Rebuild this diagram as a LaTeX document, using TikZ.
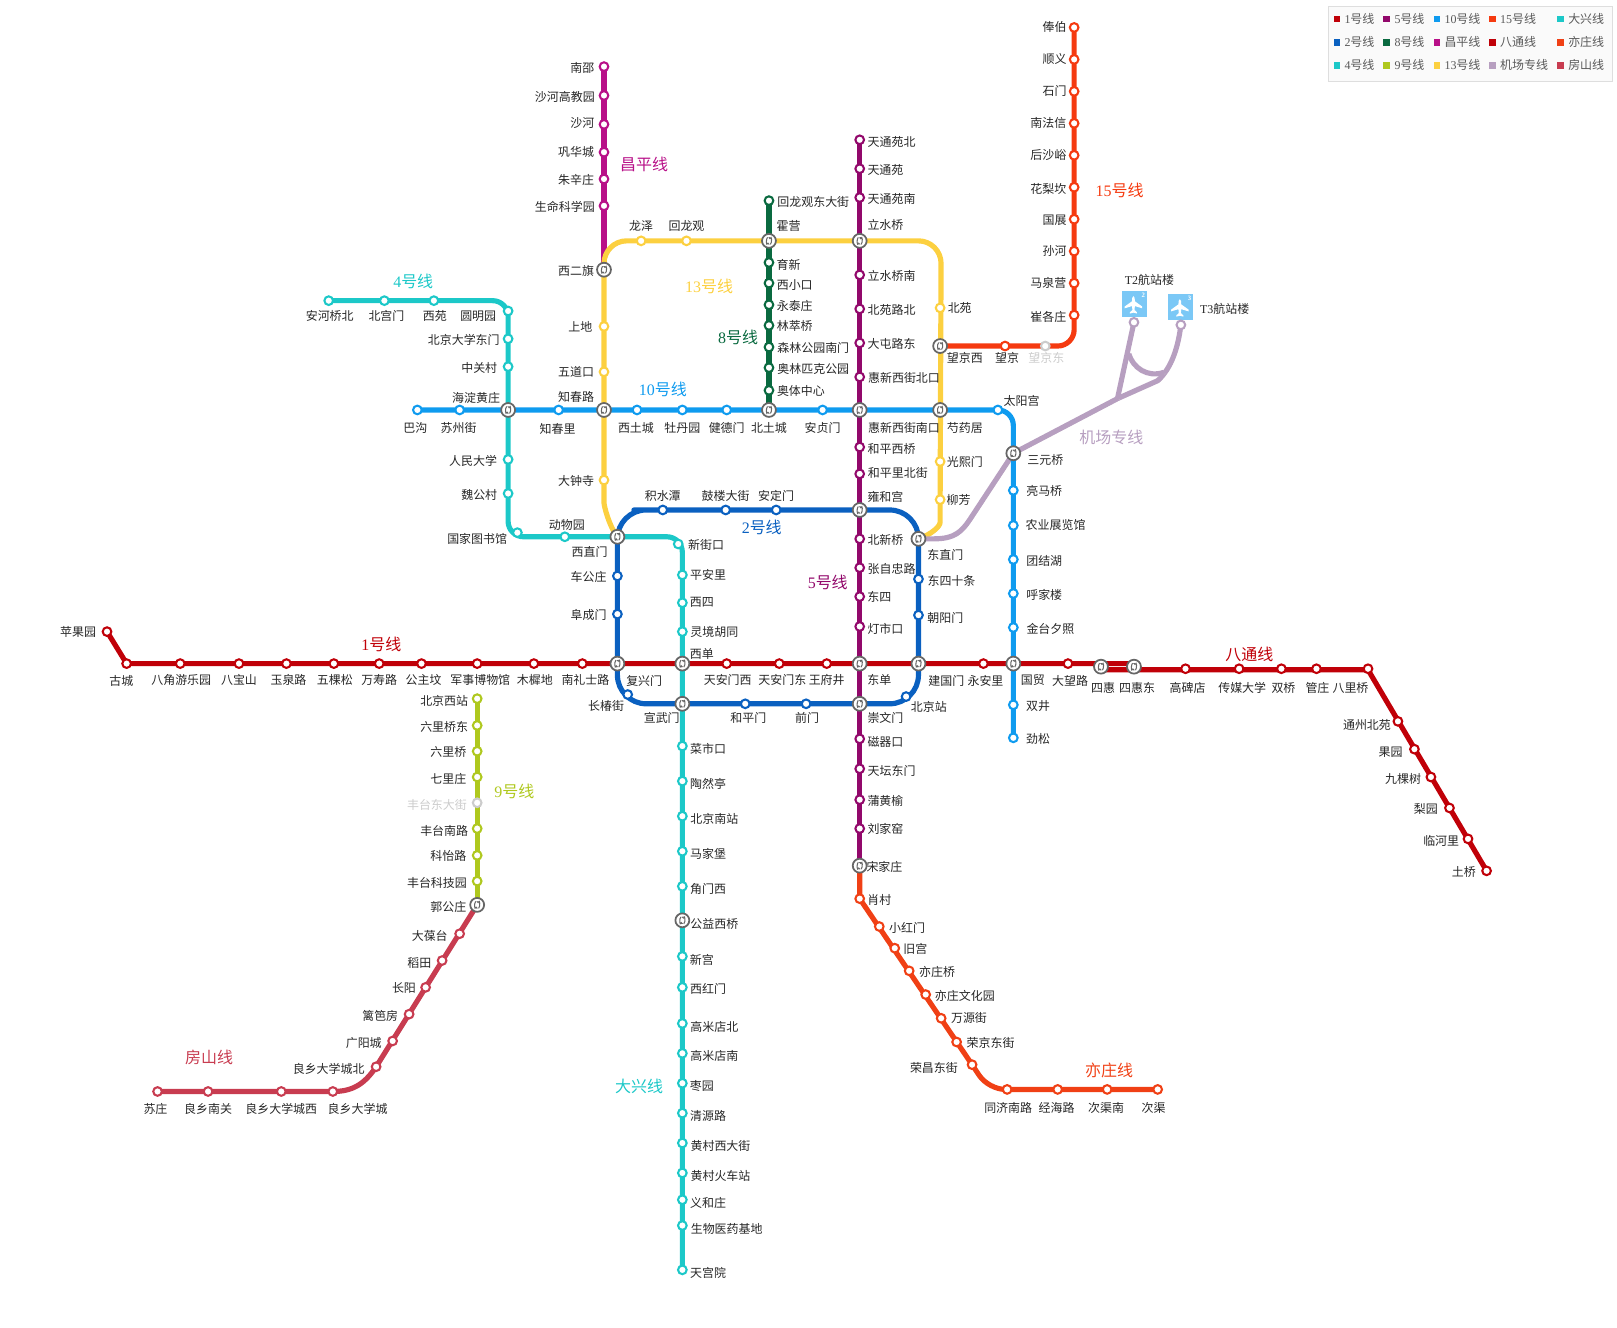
\documentclass[tikz,border=0pt]{standalone}
\usepackage{fontspec}
\setmainfont{Noto Sans CJK SC}
\newfontfamily\lat{Liberation Serif}
\usetikzlibrary{backgrounds,calc}
\definecolor{cOne}{HTML}{C00008}
\definecolor{cTwo}{HTML}{0A60C0}
\definecolor{cFour}{HTML}{1CC8C8}
\definecolor{cFive}{HTML}{92086B}
\definecolor{cEight}{HTML}{0A6A40}
\definecolor{cNine}{HTML}{AFC81E}
\definecolor{cTen}{HTML}{0F9BEF}
\definecolor{cThirteen}{HTML}{FCD040}
\definecolor{cFifteen}{HTML}{F53A10}
\definecolor{cCP}{HTML}{B81088}
\definecolor{cAir}{HTML}{B79FC0}
\definecolor{cFS}{HTML}{C83C50}
\definecolor{cYZ}{HTML}{F04015}
\definecolor{cGhost}{HTML}{CCCCCC}
\tikzset{
  stop/.style={circle,fill=white,inner sep=0pt,minimum size=8.4pt,line width=2pt},
  xch/.style={circle,fill=white,draw=black!60,inner sep=0pt,minimum size=13.5pt,line width=1.7pt,
    path picture={
      \draw[black!60,line width=1pt] ([shift={(-1.4,-3.4)}]path picture bounding box.center) .. controls +(-1.8,1.6) and +(-1.4,3.8) .. +(.2,5.6);
      \draw[black!60,line width=1pt] ([shift={(1.4,3.4)}]path picture bounding box.center) .. controls +(1.8,-1.6) and +(1.4,-3.8) .. +(-.2,-5.6);
      \fill[black!60] ([shift={(-1.4,3.6)}]path picture bounding box.center) -- +(2.2,-.2) -- +(.3,-2.2) -- cycle;
      \fill[black!60] ([shift={(1.4,-3.6)}]path picture bounding box.center) -- +(-2.2,.2) -- +(-.3,2.2) -- cycle;
    }},
  lab/.style={inner sep=0pt,text=black!85,font=\fontsize{11.6}{12}\selectfont},
  lname/.style={inner sep=0pt,font=\fontsize{15.5}{16}\selectfont},
  metro/.style={line width=5pt,line join=round,line cap=butt,
     preaction={draw=black!18,transform canvas={xshift=1.5pt,yshift=-1.5pt}}},
  legtext/.style={anchor=west,inner sep=0pt,text=black!65,font=\fontsize{11.6}{12}\selectfont},
  legbox/.style={minimum size=6.5pt,inner sep=0pt},
}
\newcommand{\stn}[7]{\node[stop,draw=#4] (#1) at (#2,#3) {}; \node[lab] (#1L) at (#6,#7) {#5};}
\newcommand{\xfr}[6]{\node[xch] (#1) at (#2,#3) {}; \node[lab] (#1L) at (#5,#6) {#4};}
\newcommand{\legitem}[6]{\node[legbox,fill=#4] (#1s) at (#2,#3) {}; \node[legtext] (#1t) at (#5,#3) {#6};}
\newcommand{\plane}[2]{\fill[white,shift={(#1,#2)},scale=.85] (0,-10) .. controls (1.6,-10) and (1.6,-6) .. (1.6,-4) -- (10,2) -- (10,4) -- (1.6,1.5) -- (1.2,6) -- (4,8.5) -- (4,10) -- (0,9) -- (-4,10) -- (-4,8.5) -- (-1.2,6) -- (-1.6,1.5) -- (-10,4) -- (-10,2) -- (-1.6,-4) .. controls (-1.6,-6) and (-1.6,-10) .. (0,-10) -- cycle;}
\begin{document}
\begin{tikzpicture}[x=1pt,y=-1pt]
\useasboundingbox (-.8,-.6) rectangle (1567.5,1287.4);
% interchanges
\xfr{xeq}{585}{261}{西二旗}{558}{262}
\xfr{huoying}{745}{233}{霍营}{764}{219}
\xfr{lishui}{833}{233}{立水桥}{858}{218}
\xfr{wjx}{911}{335}{望京西}{935}{347}
\xfr{hdhz}{492}{397}{海淀黄庄}{461}{385}
\xfr{zcl}{585}{397}{知春路}{558}{384}
\xfr{btc}{745}{397}{北土城}{745}{414}
\xfr{hxxjn}{833}{397}{惠新西街南口}{876}{414}
\xfr{syj}{911}{397}{芍药居}{935}{414}
\xfr{syq}{982}{439}{三元桥}{1013}{446}
\xfr{yhg}{833}{494}{雍和宫}{858}{481}
\xfr{xzm}{598}{520}{西直门}{571}{535}
\xfr{dzm}{890}{522}{东直门}{916}{538}
\xfr{fxm}{598}{643}{复兴门}{624}{660}
\xfr{xd}{661}{643}{西单}{680}{634}
\xfr{dd}{833}{643}{东单}{852}{659}
\xfr{jgm}{890}{643}{建国门}{917}{660}
\xfr{gm}{982}{643}{国贸}{1001}{659}
\xfr{sh}{1067}{646}{四惠}{1069}{667}
\xfr{shd}{1099}{646}{四惠东}{1102}{667}
\xfr{xwm}{661}{682}{宣武门}{641}{696}
\xfr{cwm}{833}{682}{崇文门}{858}{696}
\xfr{sjz}{833}{839}{宋家庄}{857}{840}
\xfr{ggz}{462}{877}{郭公庄}{434}{879}
\xfr{gyxq}{661}{892}{公益西桥}{692}{896}
% line 15
\stn{fb}{1041}{26}{cFifteen}{俸伯}{1022}{26}
\stn{sy}{1041}{57}{cFifteen}{顺义}{1022}{57}
\stn{sm}{1041}{88}{cFifteen}{石门}{1022}{88}
\stn{nfx}{1041}{119}{cFifteen}{南法信}{1016}{119}
\stn{hsy}{1041}{150}{cFifteen}{后沙峪}{1016}{150}
\stn{hlk}{1041}{181}{cFifteen}{花梨坎}{1016}{183}
\stn{gz}{1041}{212}{cFifteen}{国展}{1022}{213}
\stn{shh}{1041}{243}{cFifteen}{孙河}{1022}{243}
\stn{mqy}{1041}{274}{cFifteen}{马泉营}{1016}{274}
\stn{cgz}{1041}{305}{cFifteen}{崔各庄}{1016}{307}
\stn{wjd}{1013}{335}{cGhost}{\textcolor{cGhost}{望京东}}{1014}{347}
\stn{wj}{974}{335}{cFifteen}{望京}{976}{347}
% changping
\stn{nsh}{585}{64}{cCP}{南邵}{564}{65}
\stn{shgj}{585}{92}{cCP}{沙河高教园}{547}{93}
\stn{shhe}{585}{120}{cCP}{沙河}{564}{119}
\stn{ghc}{585}{147}{cCP}{巩华城}{558}{147}
\stn{zxz}{585}{173}{cCP}{朱辛庄}{558}{174}
\stn{smkx}{585}{199}{cCP}{生命科学园}{547}{200}
% line 13
\stn{dzs}{585}{465}{cThirteen}{大钟寺}{558}{466}
\stn{wdk}{585}{360}{cThirteen}{五道口}{558}{360}
\stn{sd}{585}{316}{cThirteen}{上地}{562}{316}
\stn{lz}{621}{233}{cThirteen}{龙泽}{621}{219}
\stn{hlg}{665}{233}{cThirteen}{回龙观}{665}{219}
\stn{by}{911}{298}{cThirteen}{北苑}{930}{298}
\stn{gxm}{911}{447}{cThirteen}{光熙门}{935}{447}
\stn{lf}{911}{484}{cThirteen}{柳芳}{929}{484}
% line 8
\stn{hlgd}{745}{194}{cEight}{回龙观东大街}{788}{195}
\stn{yx}{745}{254}{cEight}{育新}{764}{256}
\stn{xxk}{745}{274}{cEight}{西小口}{770}{276}
\stn{ytz}{745}{295}{cEight}{永泰庄}{770}{296}
\stn{lcq}{745}{315}{cEight}{林萃桥}{770}{316}
\stn{slgy}{745}{336}{cEight}{森林公园南门}{788}{337}
\stn{alpk}{745}{356}{cEight}{奥林匹克公园}{788}{357}
\stn{atzx}{745}{378}{cEight}{奥体中心}{776}{379}
% line 5
\stn{ttyb}{833}{135}{cFive}{天通苑北}{864}{137}
\stn{tty}{833}{163}{cFive}{天通苑}{858}{164}
\stn{ttyn}{833}{191}{cFive}{天通苑南}{864}{192}
\stn{lsqn}{833}{266}{cFive}{立水桥南}{864}{267}
\stn{bylb}{833}{299}{cFive}{北苑路北}{864}{300}
\stn{dtld}{833}{332}{cFive}{大屯路东}{864}{333}
\stn{hxxjb}{833}{365}{cFive}{惠新西街北口}{876}{366}
\stn{hpxq}{833}{433}{cFive}{和平西桥}{864}{435}
\stn{hplb}{833}{459}{cFive}{和平里北街}{870}{458}
\stn{bxq}{833}{522}{cFive}{北新桥}{858}{523}
\stn{zzz}{833}{550}{cFive}{张自忠路}{864}{551}
\stn{ds}{833}{578}{cFive}{东四}{852}{578}
\stn{dsk}{833}{607}{cFive}{灯市口}{858}{609}
\stn{cqk}{833}{716}{cFive}{磁器口}{858}{719}
\stn{ttdm}{833}{745}{cFive}{天坛东门}{864}{747}
\stn{phy}{833}{775}{cFive}{蒲黄榆}{858}{776}
\stn{ljy}{833}{803}{cFive}{刘家窑}{858}{803}
% line 10
\stn{bg}{404}{397}{cTen}{巴沟}{402}{414}
\stn{szj}{445}{397}{cTen}{苏州街}{444}{414}
\stn{zcli}{541}{397}{cTen}{知春里}{540}{415}
\stn{xtc}{617}{397}{cTen}{西土城}{616}{414}
\stn{mdy}{661}{397}{cTen}{牡丹园}{661}{414}
\stn{jdm}{704}{397}{cTen}{健德门}{704}{414}
\stn{azm}{797}{397}{cTen}{安贞门}{797}{414}
\stn{tyg}{967}{397}{cTen}{太阳宫}{990}{388}
\stn{lmq}{982}{475}{cTen}{亮马桥}{1012}{476}
\stn{nyzl}{982}{509}{cTen}{农业展览馆}{1023}{509}
\stn{tjh}{982}{542}{cTen}{团结湖}{1012}{543}
\stn{hjl}{982}{575}{cTen}{呼家楼}{1012}{576}
\stn{jtxz}{982}{608}{cTen}{金台夕照}{1018}{609}
\stn{sj}{982}{683}{cTen}{双井}{1006}{684}
\stn{js}{982}{715}{cTen}{劲松}{1006}{716}
% line 4
\stn{ahqb}{318}{291}{cFour}{安河桥北}{319}{306}
\stn{bgm}{372}{291}{cFour}{北宫门}{374}{306}
\stn{xy}{420}{291}{cFour}{西苑}{421}{306}
\stn{ymy}{492}{301}{cFour}{圆明园}{463}{306}
\stn{bdd}{492}{328}{cFour}{北京大学东门}{449}{329}
\stn{zgc}{492}{355}{cFour}{中关村}{464}{356}
\stn{rmdx}{492}{445}{cFour}{人民大学}{458}{446}
\stn{wgc}{492}{478}{cFour}{魏公村}{464}{479}
\stn{gjtsg}{501}{516}{cFour}{国家图书馆}{462}{522}
\stn{dwy}{547}{520}{cFour}{动物园}{549}{509}
\stn{xjk}{657}{527}{cFour}{新街口}{684}{528}
\stn{pal}{661}{557}{cFour}{平安里}{686}{557}
\stn{xs}{661}{584}{cFour}{西四}{680}{584}
\stn{ljht}{661}{612}{cFour}{灵境胡同}{692}{612}
\stn{csk}{661}{723}{cFour}{菜市口}{686}{726}
\stn{rrt}{661}{757}{cFour}{陶然亭}{686}{760}
\stn{bjnz}{661}{791}{cFour}{北京南站}{692}{794}
\stn{mjp}{661}{825}{cFour}{马家堡}{686}{828}
\stn{jmx}{661}{859}{cFour}{角门西}{686}{862}
\stn{xg}{661}{927}{cFour}{新宫}{680}{930}
\stn{xhm}{661}{957}{cFour}{西红门}{686}{959}
\stn{gmdb}{661}{992}{cFour}{高米店北}{692}{995}
\stn{gmdn}{661}{1021}{cFour}{高米店南}{692}{1024}
\stn{zy}{661}{1050}{cFour}{枣园}{680}{1053}
\stn{qyl}{661}{1079}{cFour}{清源路}{686}{1082}
\stn{hcxd}{661}{1108}{cFour}{黄村西大街}{698}{1111}
\stn{hchz}{661}{1137}{cFour}{黄村火车站}{698}{1140}
\stn{yhz}{661}{1163}{cFour}{义和庄}{686}{1166}
\stn{swyy}{661}{1188}{cFour}{生物医药基地}{704}{1191}
\stn{tgy}{661}{1231}{cFour}{天宫院}{686}{1234}
% line 2
\stn{jst}{642}{494}{cTwo}{积水潭}{642}{480}
\stn{gldj}{703}{494}{cTwo}{鼓楼大街}{703}{480}
\stn{adm}{752}{494}{cTwo}{安定门}{752}{480}
\stn{cgzh}{598}{558}{cTwo}{车公庄}{570}{559}
\stn{fcm}{598}{595}{cTwo}{阜成门}{570}{596}
\stn{dsst}{890}{561}{cTwo}{东四十条}{922}{563}
\stn{cym}{890}{596}{cTwo}{朝阳门}{916}{599}
\stn{bjz}{878}{675}{cTwo}{北京站}{900}{685}
\stn{qm}{781}{682}{cTwo}{前门}{782}{696}
\stn{hpm}{722}{682}{cTwo}{和平门}{725}{696}
\stn{ccj}{608}{673}{cTwo}{长椿街}{587}{684}
% line 1
\stn{pgy}{103}{612}{cOne}{苹果园}{75}{612}
\stn{gc}{122}{643}{cOne}{古城}{117}{660}
\stn{bjyl}{174}{643}{cOne}{八角游乐园}{175}{659}
\stn{bbs}{231}{643}{cOne}{八宝山}{231}{659}
\stn{yql}{277}{643}{cOne}{玉泉路}{279}{659}
\stn{wks}{323}{643}{cOne}{五棵松}{324}{659}
\stn{wsl}{367}{643}{cOne}{万寿路}{367}{659}
\stn{gzf}{408}{643}{cOne}{公主坟}{410}{659}
\stn{jsbw}{462}{643}{cOne}{军事博物馆}{465}{659}
\stn{mxd}{517}{643}{cOne}{木樨地}{518}{659}
\stn{nlsl}{564}{643}{cOne}{南礼士路}{567}{659}
\stn{tamx}{704}{643}{cOne}{天安门西}{705}{659}
\stn{tamd}{755}{643}{cOne}{天安门东}{758}{659}
\stn{wfj}{801}{643}{cOne}{王府井}{801}{659}
\stn{yal}{953}{643}{cOne}{永安里}{955}{660}
\stn{dwl}{1035}{643}{cOne}{大望路}{1037}{660}
% batong
\stn{gbd}{1149}{648}{cOne}{高碑店}{1151}{667}
\stn{cmdx}{1201}{648}{cOne}{传媒大学}{1204}{667}
\stn{sq}{1242}{648}{cOne}{双桥}{1244}{667}
\stn{gzh}{1276}{648}{cOne}{管庄}{1277}{667}
\stn{blq}{1326}{648}{cOne}{八里桥}{1309}{667}
\stn{tzby}{1355}{699}{cOne}{通州北苑}{1325}{703}
\stn{gy}{1371}{726}{cOne}{果园}{1348}{729}
\stn{jks}{1387}{753}{cOne}{九棵树}{1360}{755}
\stn{ly}{1405}{783}{cOne}{梨园}{1382}{784}
\stn{lhl}{1423}{813}{cOne}{临河里}{1397}{815}
\stn{tq}{1441}{844}{cOne}{土桥}{1419}{845}
% line 9
\stn{bjxz}{462}{677}{cNine}{北京西站}{430}{679}
\stn{lqd}{462}{703}{cNine}{六里桥东}{430}{704}
\stn{lq}{462}{728}{cNine}{六里桥}{434}{729}
\stn{qlz}{462}{753}{cNine}{七里庄}{434}{755}
\stn{ftd}{462}{778}{cGhost}{\textcolor{cGhost}{丰台东大街}}{423}{780}
\stn{ftnl}{462}{803}{cNine}{丰台南路}{430}{805}
\stn{kyl}{462}{829}{cNine}{科怡路}{434}{830}
\stn{ftkj}{462}{854}{cNine}{丰台科技园}{423}{856}
% fangshan
\stn{dbt}{445}{905}{cFS}{大葆台}{416}{907}
\stn{dt}{428}{931}{cFS}{稻田}{406}{933}
\stn{cy}{412}{957}{cFS}{长阳}{391}{958}
\stn{lbf}{396}{983}{cFS}{篱笆房}{368}{985}
\stn{gyc}{380}{1009}{cFS}{广阳城}{352}{1011}
\stn{lxb}{364}{1034}{cFS}{良乡大学城北}{318}{1036}
\stn{lxc}{322}{1058}{cFS}{良乡大学城}{346}{1075}
\stn{lxx}{272}{1058}{cFS}{良乡大学城西}{272}{1075}
\stn{lxn}{201}{1058}{cFS}{良乡南关}{201}{1075}
\stn{szh}{152}{1058}{cFS}{苏庄}{150}{1075}
% yizhuang
\stn{xc}{833}{871}{cYZ}{肖村}{852}{872}
\stn{xhmn}{852}{898}{cYZ}{小红门}{879}{899}
\stn{jg}{867}{919}{cYZ}{旧宫}{887}{920}
\stn{yzq}{881}{941}{cYZ}{亦庄桥}{908}{942}
\stn{yzwh}{897}{964}{cYZ}{亦庄文化园}{935}{965}
\stn{wyj}{912}{987}{cYZ}{万源街}{939}{987}
\stn{rjd}{927}{1010}{cYZ}{荣京东街}{960}{1011}
\stn{rcd}{942}{1032}{cYZ}{荣昌东街}{905}{1035}
\stn{tjn}{976}{1056}{cYZ}{同济南路}{977}{1074}
\stn{jhl}{1025}{1056}{cYZ}{经海路}{1024}{1074}
\stn{cqn}{1073}{1056}{cYZ}{次渠南}{1072}{1074}
\stn{cq}{1122}{1056}{cYZ}{次渠}{1118}{1074}
% airport
\fill[fill=cTen!55!white] (1087,282) rectangle (1111.6,307);
\fill[fill=cTen!55!white] (1131.6,285) rectangle (1156.5,310);
\plane{1098.5}{295}
\plane{1143.5}{298}
\node[inner sep=0pt,text=white,font=\lat\fontsize{6.5}{7}\selectfont\bfseries] (t2n) at (1108,286) {2};
\node[inner sep=0pt,text=white,font=\lat\fontsize{6.5}{7}\selectfont\bfseries] (t3n) at (1153,289) {3};
\node[stop,draw=cAir] (t2) at (1099,312) {};
\node[stop,draw=cAir] (t3) at (1144.5,314.5) {};
\node[lab] (t2L) at (1114,271) {{\lat T2}航站楼};
\node[lab] (t3L) at (1187,299) {{\lat T3}航站楼};
% corners
\coordinate (c15) at (1041,335);
\coordinate (c13a) at (585,233);
\coordinate (c13b) at (912,233);
\coordinate (c10) at (982,397);
\coordinate (c4a) at (492,291);
\coordinate (c4b) at (492,520);
\coordinate (c4c) at (661,520);
\coordinate (c2a) at (598,494);
\coordinate (c2b) at (890,494);
\coordinate (c2c) at (890,682);
\coordinate (c2d) at (598,682);
\coordinate (c1end) at (1100,643);
\coordinate (cbt) at (1067,649);
\coordinate (cbt2) at (1326,649);
\coordinate (cyz) at (958,1056);
\coordinate (airA) at (1083,386);
\coordinate (airE) at (1122,368.6);
\coordinate (airB) at (1094,342.7);
\coordinate (airD) at (1128,360.5);
% lines
\begin{scope}[on background layer]
\draw[metro,draw=cCP] (nsh.center) -- (xeq.center);
\draw[metro,draw=cThirteen,rounded corners=22pt] (xzm.center) .. controls (590,510) and (585,490) .. (dzs.center) -- (c13a) -- (c13b) -- (lf.center) .. controls (911,510) and (902,518) .. (dzm.center);
\draw[metro,draw=cAir] (dzm.center) -- (905,522) .. controls (925,522) and (932,515) .. (940,503) -- (syq.center) -- (airA) -- (airE) .. controls (1136,356) and (1142,335) .. (t3.center);
\draw[metro,draw=cAir] (airA) -- (t2.center);
\draw[metro,draw=cAir] (airB) .. controls (1098,356) and (1112,366) .. (airD);
\draw[metro,draw=cFifteen,rounded corners=16pt] (fb.center) -- (c15) -- (wjx.center);
\draw[metro,draw=cEight] (hlgd.center) -- (btc.center);
\draw[metro,draw=cTen,rounded corners=15pt] (bg.center) -- (c10) -- (js.center);
\draw[metro,draw=cFour,rounded corners=15pt] (ahqb.center) -- (c4a) -- (hdhz.center) -- (c4b) -- (xzm.center) -- (c4c) -- (tgy.center);
\draw[metro,draw=cTwo,rounded corners=28pt] (jst.center) -- (c2b) -- (c2c) -- (c2d) -- (c2a) -- cycle;
\draw[metro,draw=cOne] (pgy.center) -- (gc.center) -- (c1end);
\draw[metro,draw=cOne] (cbt) -- (cbt2) -- (tq.center);
\draw[metro,draw=cNine] (bjxz.center) -- (ggz.center);
\draw[metro,draw=cFS] (ggz.center) -- (lxb.center) .. controls (352,1052) and (340,1058) .. (lxc.center) -- (szh.center);
\draw[metro,draw=cYZ] (sjz.center) -- (xc.center) -- (rcd.center) [rounded corners=16pt] -- (cyz) -- (cq.center);
\draw[metro,draw=cFive] (ttyb.center) -- (sjz.center);
\end{scope}
% line names
\node[lname,text=cCP] (nCP) at (624,159) {昌平线};
\node[lname,text=cFifteen] (n15) at (1085,184) {{\lat 15}号线};
\node[lname,text=cFour] (n4) at (400,272) {{\lat 4}号线};
\node[lname,text=cThirteen] (n13) at (687,277) {{\lat 13}号线};
\node[lname,text=cEight] (n8) at (715,327) {{\lat 8}号线};
\node[lname,text=cTen] (n10) at (642,377) {{\lat 10}号线};
\node[lname,text=cAir] (nA) at (1077,424) {机场专线};
\node[lname,text=cTwo] (n2) at (738,511) {{\lat 2}号线};
\node[lname,text=cFive] (n5) at (802,564) {{\lat 5}号线};
\node[lname,text=cOne] (n1) at (369,624) {{\lat 1}号线};
\node[lname,text=cOne] (nBT) at (1211,634) {八通线};
\node[lname,text=cNine] (n9) at (498,767) {{\lat 9}号线};
\node[lname,text=cFour] (nDX) at (619,1053) {大兴线};
\node[lname,text=cFS] (nFS) at (202,1025) {房山线};
\node[lname,text=cYZ] (nYZ) at (1075,1038) {亦庄线};
% legend
\node[draw=black!13,fill=black!2,line width=1pt,minimum width=276pt,minimum height=72.5pt,inner sep=0pt,anchor=north west] (legend) at (1287,5) {};
\legitem{a}{1296}{17.8}{cOne}{1303}{{\lat 1}号线}
\legitem{b}{1344}{17.8}{cFive}{1351.5}{{\lat 5}号线}
\legitem{c}{1393}{17.8}{cTen}{1400}{{\lat 10}号线}
\legitem{d}{1447}{17.8}{cFifteen}{1454}{{\lat 15}号线}
\legitem{e}{1513}{17.8}{cFour}{1520}{大兴线}
\legitem{f}{1296}{40.4}{cTwo}{1303}{{\lat 2}号线}
\legitem{g}{1344}{40.4}{cEight}{1351.5}{{\lat 8}号线}
\legitem{h}{1393}{40.4}{cCP}{1400}{昌平线}
\legitem{i}{1447}{40.4}{cOne}{1454}{八通线}
\legitem{j}{1513}{40.4}{cYZ}{1520}{亦庄线}
\legitem{k}{1296}{62.7}{cFour}{1303}{{\lat 4}号线}
\legitem{l}{1344}{62.7}{cNine}{1351.5}{{\lat 9}号线}
\legitem{m}{1393}{62.7}{cThirteen}{1400}{{\lat 13}号线}
\legitem{n}{1447}{62.7}{cAir}{1454}{机场专线}
\legitem{o}{1513}{62.7}{cFS}{1520}{房山线}
\end{tikzpicture}
\end{document}
